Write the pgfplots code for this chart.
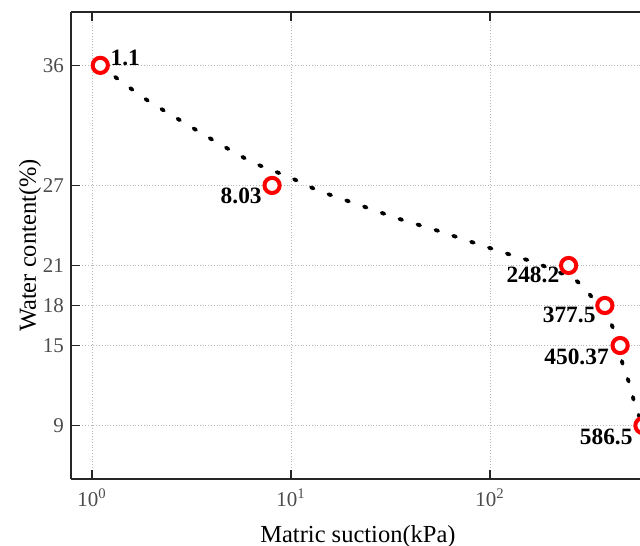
\documentclass[border=0pt]{standalone}
\usepackage{pgfplots}
\pgfplotsset{compat=1.18}
\usepackage{fontspec}
\setmainfont{Liberation Serif}

\begin{document}
\begin{tikzpicture}
\begin{axis}[
  scale only axis, width=287pt, height=233.5pt,
  xmode=log, xmin=0.784, xmax=600, ymin=5, ymax=40,
  axis x line=box, axis y line=left,
  axis line style={-, line width=0.8pt, black!85},
  every outer x axis line/.append style={-},
  every outer y axis line/.append style={-},
  xtick={1,10,100},
  xticklabels={10\textsuperscript{0},10\textsuperscript{1},10\textsuperscript{2}},
  xminorticks=false,
  ytick={9,15,18,21,27,36},
  tick align=inside, major tick length=4.5pt,
  tick style={line width=0.8pt, black!85},
  grid=major, grid style={densely dotted, gray!55, line width=0.5pt},
  /pgf/number format/assume math mode=true,
  ticklabel style={font=\fontsize{10.5}{12}\selectfont, text=black!70},
  xticklabel style={yshift=-1.5pt},
  label style={font=\fontsize{12.25}{14}\selectfont},
  xlabel={Matric suction(kPa)},
  ylabel={Water content(\%)},
  xlabel shift=2.5pt,
  ylabel shift=-6pt,
]
\addplot[black, line width=1.9pt, line cap=round, dash pattern=on 1.4pt off 8pt, smooth, tension=0.4] coordinates {
  (1.1,36) (1.275,35.25) (1.867,33.45) (2.83,31.8) (4.25,30.22) (6.44,28.72)
  (9.89,27.6) (13.7,26.62) (21.7,25.57) (34.5,24.52) (54.2,23.62) (85.1,22.65)
  (135,21.67) (168,21.22) (261,20.02) (311,18.97) (410,16.5) (466,13.5)
  (505,12.0) (536,10.5) (586.5,9)
};
\addplot[only marks, mark=*, mark size=3.8pt, red, mark options={fill=white, line width=2pt, draw=red}] coordinates {
  (1.1,36) (8.03,27) (248.2,21) (377.5,18) (450.37,15) (586.5,9)
};
\coordinate (cropR) at (axis cs:567,40);
\tikzset{dlab/.style={font=\bfseries\fontsize{11.7}{14}\selectfont, inner sep=0pt}}
\node[dlab, anchor=west, xshift=5pt, yshift=3.5pt] at (axis cs:1.1,36) {1.1};
\node[dlab, anchor=east, xshift=-5pt, yshift=-5pt] at (axis cs:8.03,27) {8.03};
\node[dlab, anchor=east, xshift=-4.5pt, yshift=-4.5pt] at (axis cs:248.2,21) {248.2};
\node[dlab, anchor=east, xshift=-4.5pt, yshift=-4.5pt] at (axis cs:377.5,18) {377.5};
\node[dlab, anchor=east, xshift=-5.5pt, yshift=-5.5pt] at (axis cs:450.37,15) {450.37};
\node[dlab, anchor=east, xshift=-5pt, yshift=-5.5pt] at (axis cs:586.5,9) {586.5};
\end{axis}
\pgfresetboundingbox
\path[use as bounding box] ([xshift=-35.5pt,yshift=-33.5pt]current axis.south west) rectangle ([yshift=6pt]current axis.north west -| cropR);
\end{tikzpicture}
\end{document}
